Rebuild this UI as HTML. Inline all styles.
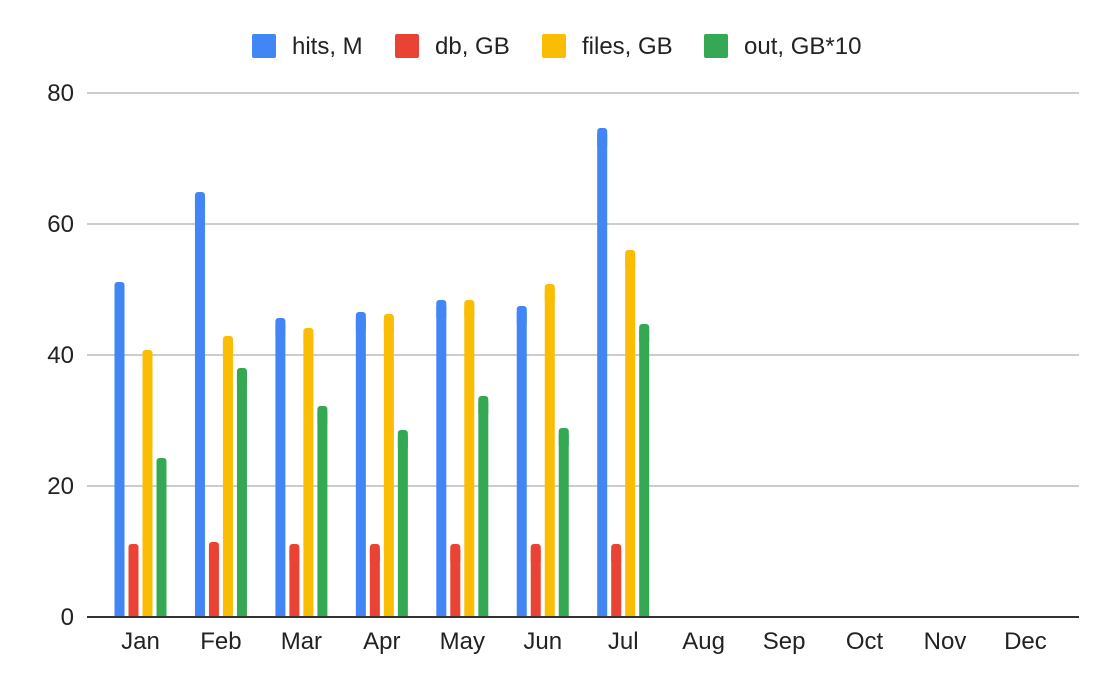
<!DOCTYPE html>
<html><head><style>body{margin:0;background:#fff}svg{display:block}text{font-family:"Liberation Sans",sans-serif;font-size:24px;fill:#222}</style></head><body>
<svg width="1114" height="688" xmlns="http://www.w3.org/2000/svg">
<rect width="1114" height="688" fill="#fff"/>
<g stroke="#ccc" stroke-width="2">
<line x1="87" x2="1079" y1="93" y2="93"/><line x1="87" x2="1079" y1="224" y2="224"/><line x1="87" x2="1079" y1="355" y2="355"/><line x1="87" x2="1079" y1="486" y2="486"/></g>
<g text-anchor="end"><text x="74" y="101">80</text><text x="74" y="232">60</text><text x="74" y="363">40</text><text x="74" y="494">20</text><text x="74" y="625">0</text></g>
<g id="bars"></g>
<line x1="87" x2="1079" y1="617" y2="617" stroke="#333" stroke-width="2"/>
<g text-anchor="middle" id="xl"></g>
<rect x="252" y="34" width="24" height="24" rx="2" fill="#4285f4"/><text x="292" y="54">hits, M</text>
<rect x="395" y="34" width="24" height="24" rx="2" fill="#ea4335"/><text x="435" y="54">db, GB</text>
<rect x="542" y="34" width="24" height="24" rx="2" fill="#fbbc04"/><text x="582" y="54">files, GB</text>
<rect x="704" y="34" width="24" height="24" rx="2" fill="#34a853"/><text x="744" y="54">out, GB*10</text>
</svg>
<script>
var m=["Jan","Feb","Mar","Apr","May","Jun","Jul","Aug","Sep","Oct","Nov","Dec"];
var d=[[282,544,350,458],[192,542,336,368],[318,544,328,406],[312,544,314,430],[300,544,300,396],[306,544,284,428],[128,544,250,324]];
var c=["#4285f4","#ea4335","#fbbc04","#34a853"],ns="http://www.w3.org/2000/svg";
var b=document.getElementById("bars"),xl=document.getElementById("xl");
function R(x,y,w,h,rx,f){var r=document.createElementNS(ns,"rect");r.setAttribute("x",x);r.setAttribute("y",y);r.setAttribute("width",w);r.setAttribute("height",h);if(rx)r.setAttribute("rx",rx);r.setAttribute("fill",f);b.appendChild(r);}
m.forEach(function(n,i){var cx=140.5+80.45*i;var t=document.createElementNS(ns,"text");t.setAttribute("x",cx);t.setAttribute("y",649);t.textContent=n;xl.appendChild(t);
if(d[i])d[i].forEach(function(y,j){var x=cx-26+14*j;R(x,y,10,20,3,c[j]);R(x,y+6,10,617-y-6,0,c[j]);});});
</script>
</body></html>
